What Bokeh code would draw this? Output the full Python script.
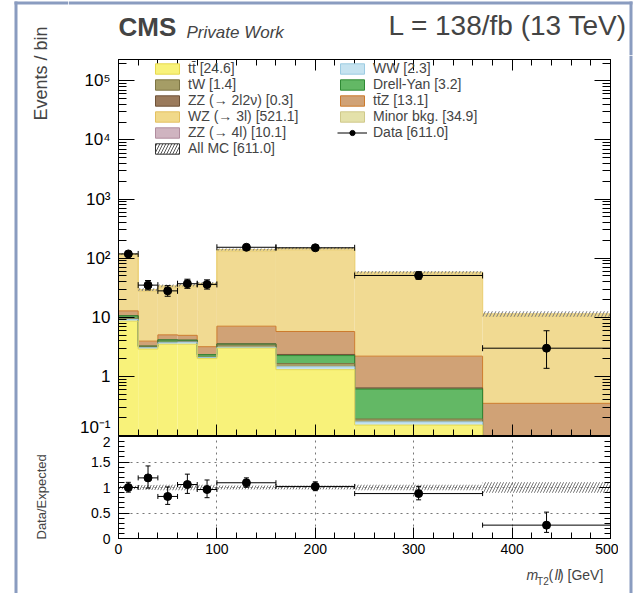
import numpy as np
from bokeh.plotting import figure
from bokeh.models import (ColumnDataSource, Label, Legend, LegendItem, BoxAnnotation,
                          FixedTicker, CustomJSTickFormatter, LinearAxis, LogAxis, Range1d)
from bokeh.layouts import column, row
from bokeh.embed import file_html
from bokeh.resources import INLINE

# ---------------- data ----------------
bin_edges = [0, 20, 40, 60, 80, 100, 160, 240, 370, 500]

ttbar   = [8.6, 2.9, 3.5, 3.5, 2.0, 3.0, 1.3, 0.15, 0.0]
ww      = [0.6, 0.15, 0.2, 0.3, 0.08, 0.1, 0.15, 0.02, 0.0]
tw      = [0.4, 0.1, 0.1, 0.1, 0.05, 0.3, 0.2, 0.02, 0.0]
dy      = [1.0, 0.1, 0.35, 0.2, 0.2, 0.12, 0.6, 0.42, 0.0]
zz2l2nu = [0.05, 0.0, 0.0, 0.0, 0.0, 0.05, 0.1, 0.03, 0.0]
ttz     = [2.2, 0.7, 0.9, 0.85, 0.85, 3.5, 3.4, 1.56, 0.35]
wz      = [96.6, 23.4, 26.6, 27.5, 31.6, 122.4, 130.3, 51.2, 10.1]
minor   = [6.5, 1.6, 1.8, 1.9, 2.1, 8.1, 8.6, 3.5, 0.8]
zz4l    = [2.0, 0.5, 0.5, 0.6, 0.6, 2.4, 2.3, 1.0, 0.2]
mc_unc  = [4.0, 1.5, 1.8, 1.8, 2.0, 5.5, 5.5, 3.0, 1.2]

data        = [118, 35, 28, 37, 36, 153, 150, 51, 3]
data_err_lo = [10.8, 5.9, 5.3, 6.1, 6.0, 12.4, 12.2, 7.1, 1.63]
data_err_hi = [11.9, 6.9, 6.3, 7.1, 7.0, 13.4, 13.3, 8.2, 2.92]

legend_col1 = ["tt\u0304 [24.6]", "tW [1.4]", "ZZ (\u2192 2l2\u03bd) [0.3]",
               "WZ (\u2192 3l) [521.1]", "ZZ (\u2192 4l) [10.1]", "All MC [611.0]"]
legend_col2 = ["WW [2.3]", "Drell-Yan [3.2]", "tt\u0304Z [13.1]",
               "Minor bkg. [34.9]", "Data [611.0]"]

y_ticks_main = [0.1, 1, 10, 100, 1e3, 1e4, 1e5]
x_ticks = [0, 100, 200, 300, 400, 500]
ratio_ticks = [0, 0.5, 1, 1.5, 2]

FONT = "Liberation Sans"
FRAME_BLUE = "#8a9cc0"

# ---------------- derived ----------------
edges = np.array(bin_edges, dtype=float)
left, right = edges[:-1], edges[1:]
centers = 0.5 * (left + right)
floor = 1e-3

comps = [
    ("ttbar", ttbar, "#f8f27a", "#e6d84e"),
    ("ww", ww, "#c6e3f0", "#9ccbe2"),
    ("tw", tw, "#a59d66", "#7d7544"),
    ("dy", dy, "#63b865", "#2f8a34"),
    ("zz2l2nu", zz2l2nu, "#9a7a5c", "#6e5238"),
    ("ttz", ttz, "#d0a276", "#cc7a2c"),
    ("wz", wz, "#f1da92", "#ecd27c"),
    ("minor", minor, "#efdb98", "#ecd480"),
    ("zz4l", zz4l, "#f1da95", "#ecd27c"),
]
legend_style = {
    "ttbar": ("#f8f27a", "#e6d84e"), "tw": ("#a59d66", "#7d7544"),
    "zz2l2nu": ("#9a7a5c", "#6e5238"), "wz": ("#f1d98a", "#e3c060"),
    "zz4l": ("#cfb4c0", "#b08c9e"), "ww": ("#c6e3f0", "#9ccbe2"),
    "dy": ("#63b865", "#2f8a34"), "ttz": ("#d0a276", "#cc7a2c"),
    "minor": ("#e4e1aa", "#cfc98a"),
}

empty_fmt = CustomJSTickFormatter(code="return '';")


def style_axis(ax, tin, tmin, labels=True, fs="17px"):
    ax.major_tick_in = tin
    ax.major_tick_out = 0
    ax.minor_tick_in = tmin
    ax.minor_tick_out = 0
    ax.axis_line_color = "black"
    ax.major_tick_line_color = "black"
    ax.minor_tick_line_color = "black"
    if labels:
        ax.major_label_text_font = FONT
        ax.major_label_text_font_size = fs
        ax.major_label_text_color = "black"
    else:
        ax.formatter = empty_fmt
        ax.major_label_text_font_size = "1px"
        ax.major_label_standoff = 0


def blank(width, height, xa, xb, ya, yb):
    """Figure whose frame is the whole canvas; data units = page pixels (y downward)."""
    f = figure(width=width, height=height, x_range=Range1d(xa, xb), y_range=Range1d(yb, ya),
               x_axis_location=None, y_axis_location=None, min_border=0,
               output_backend="svg", toolbar_location=None)
    f.outline_line_color = None
    for g in f.grid:
        g.visible = False
    return f


# ---------------- main figure ----------------
MW = 550
p = figure(width=MW, height=381, y_axis_type="log",
           x_range=Range1d(0, 500), y_range=Range1d(0.1, 2.3e5),
           output_backend="svg", toolbar_location=None,
           min_border_left=50, min_border_right=8, min_border_top=4, min_border_bottom=1)
p.xgrid.visible = False
p.ygrid.visible = False
p.outline_line_color = "black"

cum = np.zeros(len(left))
tops = []
layer_src = {}
for name, vals, fc, lc in comps:
    v = np.array(vals, dtype=float)
    top = cum + v
    src = ColumnDataSource(dict(left=left, right=right, bottom=np.maximum(cum, floor),
                                top=np.maximum(top, floor)))
    layer_src[name] = src
    p.quad(left="left", right="right", bottom="bottom", top="top", source=src,
           fill_color=fc, line_color=None)
    tops.append((np.maximum(top, floor), lc))
    cum = top
mc_total = cum
# outlines drawn top layer first so lower layers win where a layer is empty
for t, lc in reversed(tops):
    p.step(x=edges, y=list(t) + [t[-1]], mode="after", line_color=lc, line_width=1)

unc = np.array(mc_unc)
band_src = ColumnDataSource(dict(left=left, right=right, bottom=mc_total - unc, top=mc_total + unc))
p.quad(left="left", right="right", bottom="bottom", top="top", source=band_src,
       fill_alpha=0, line_color=None, hatch_pattern="/", hatch_color="#777777",
       hatch_scale=7, hatch_weight=1)

d = np.array(data, dtype=float)
dsrc = ColumnDataSource(dict(x=centers, y=d, lo=d - np.array(data_err_lo), hi=d + np.array(data_err_hi),
                             xl=left, xr=right))
p.segment(x0="x", y0="lo", x1="x", y1="hi", source=dsrc, line_color="black", line_width=1)
p.segment(x0="xl", y0="y", x1="xr", y1="y", source=dsrc, line_color="black", line_width=1)
p.scatter(x="x", y="lo", source=dsrc, marker="dash", size=6, line_color="black")
p.scatter(x="x", y="hi", source=dsrc, marker="dash", size=6, line_color="black")
p.scatter(x="xl", y="y", source=dsrc, marker="dash", angle=np.pi / 2, size=6, line_color="black")
p.scatter(x="xr", y="y", source=dsrc, marker="dash", angle=np.pi / 2, size=6, line_color="black")
p.scatter(x="x", y="y", source=dsrc, size=8, color="black")

sup_fmt = CustomJSTickFormatter(code="""
const sup = {"-":"\u207b","0":"\u2070","1":"\u00b9","2":"\u00b2","3":"\u00b3","4":"\u2074","5":"\u2075","6":"\u2076","7":"\u2077","8":"\u2078","9":"\u2079"};
const e = Math.round(Math.log10(tick));
if (e == 0) return "1";
if (e == 1) return "10";
return "10" + String(e).split("").map(c => sup[c]).join("");
""")
minor_log = [m * 10.0 ** k for k in range(-1, 6) for m in range(2, 10)]
minor_x = [v for v in range(0, 501, 20) if v % 100]

p.yaxis.ticker = FixedTicker(ticks=y_ticks_main, minor_ticks=minor_log)
p.yaxis.formatter = sup_fmt
style_axis(p.yaxis[0], 16, 8, True, "17px")
p.yaxis.major_label_standoff = 8
p.xaxis.ticker = FixedTicker(ticks=x_ticks, minor_ticks=minor_x)
style_axis(p.xaxis[0], 11, 6, False)

ax_r = LogAxis(ticker=FixedTicker(ticks=y_ticks_main, minor_ticks=minor_log))
style_axis(ax_r, 16, 8, False)
p.add_layout(ax_r, "right")
ax_t = LinearAxis(ticker=FixedTicker(ticks=x_ticks, minor_ticks=minor_x))
style_axis(ax_t, 11, 6, False)
p.add_layout(ax_t, "above")

# legend proxies: hidden renderers sharing the layer data
def proxy_quad(key, src, **kw):
    fc, lc = legend_style[key]
    return p.quad(left="left", right="right", bottom="bottom", top="top", source=src,
                  fill_color=fc, line_color=lc, visible=False, **kw)

r_tt = proxy_quad("ttbar", layer_src["ttbar"])
r_tw = proxy_quad("tw", layer_src["tw"])
r_zz2 = proxy_quad("zz2l2nu", layer_src["zz2l2nu"])
r_wz = proxy_quad("wz", layer_src["wz"])
r_zz4 = proxy_quad("zz4l", layer_src["zz4l"])
r_all = p.quad(left="left", right="right", bottom="bottom", top="top", source=band_src,
               fill_color="white", line_color="#333333", hatch_pattern="/", hatch_color="#555555",
               hatch_scale=6, visible=False)
r_ww = proxy_quad("ww", layer_src["ww"])
r_dy = proxy_quad("dy", layer_src["dy"])
r_ttz = proxy_quad("ttz", layer_src["ttz"])
r_min = proxy_quad("minor", layer_src["minor"])
r_dl = p.line(x="x", y="y", source=dsrc, line_color="black", line_width=1, visible=False)
r_dm = p.scatter(x="x", y="y", source=dsrc, size=8, color="black", visible=False)

ROW_H = 16
leg_kw = dict(orientation="vertical", padding=0, margin=0, spacing=0, glyph_width=30, glyph_height=13,
              label_height=ROW_H, label_standoff=6, label_text_font=FONT, label_text_font_size="14px",
              border_line_color=None, background_fill_alpha=0, inactive_fill_alpha=0)
leg1 = Legend(items=[LegendItem(label=t, renderers=[rr]) for t, rr in
                     zip(legend_col1, [r_tt, r_tw, r_zz2, r_wz, r_zz4, r_all])],
              location=(34, 376 - 6 * ROW_H - 1), **leg_kw)
leg2 = Legend(items=[LegendItem(label=t, renderers=rr) for t, rr in
                     zip(legend_col2, [[r_ww], [r_dy], [r_ttz], [r_min], [r_dl, r_dm]])],
              location=(219, 376 - 5 * ROW_H - 1), **leg_kw)
p.add_layout(leg1)
p.add_layout(leg2)

# ---------------- ratio figure ----------------
r = figure(width=MW, height=124, x_range=p.x_range, y_range=Range1d(0, 2),
           output_backend="svg", toolbar_location=None,
           min_border_left=50, min_border_right=8, min_border_top=0, min_border_bottom=22)
r.outline_line_color = "black"
r.xgrid.grid_line_dash = "dotted"
r.ygrid.grid_line_dash = "dotted"
r.xgrid.grid_line_color = "#777777"
r.ygrid.grid_line_color = "#777777"

rel = unc / mc_total
r.quad(left=left, right=right, bottom=1 - rel, top=1 + rel, fill_alpha=0, line_color=None,
       hatch_pattern="/", hatch_color="#777777", hatch_scale=6, hatch_weight=1)
rsrc = ColumnDataSource(dict(x=centers, y=d / mc_total,
                             lo=(d - np.array(data_err_lo)) / mc_total,
                             hi=(d + np.array(data_err_hi)) / mc_total, xl=left, xr=right))
r.segment(x0="x", y0="lo", x1="x", y1="hi", source=rsrc, line_color="black")
r.segment(x0="xl", y0="y", x1="xr", y1="y", source=rsrc, line_color="black")
r.scatter(x="x", y="lo", source=rsrc, marker="dash", size=5, line_color="black")
r.scatter(x="x", y="hi", source=rsrc, marker="dash", size=5, line_color="black")
r.scatter(x="xl", y="y", source=rsrc, marker="dash", angle=np.pi / 2, size=5, line_color="black")
r.scatter(x="xr", y="y", source=rsrc, marker="dash", angle=np.pi / 2, size=5, line_color="black")
r.scatter(x="x", y="y", source=rsrc, size=8, color="black")

r.xaxis.ticker = FixedTicker(ticks=x_ticks, minor_ticks=minor_x)
style_axis(r.xaxis[0], 11, 6, True, "14px")
r.xaxis.major_label_standoff = 5
minor_ratio = [round(0.1 * i, 1) for i in range(0, 21) if i % 5]
r.yaxis.ticker = FixedTicker(ticks=ratio_ticks, minor_ticks=minor_ratio)
r.yaxis.major_label_overrides = {0: "0", 0.5: "0.5", 1: "1", 1.5: "1.5", 2: "2"}
style_axis(r.yaxis[0], 11, 6, True, "14px")
r.yaxis.major_label_standoff = 8
ax_rr = LinearAxis(ticker=FixedTicker(ticks=ratio_ticks, minor_ticks=minor_ratio))
style_axis(ax_rr, 11, 6, False)
r.add_layout(ax_rr, "right")

# ---------------- text / frame strips (data units = page pixels) ----------------
LEFT_W, HEAD_H, FOOT_H, RIGHT_W = 68, 55, 33, 16
TOTAL_H = HEAD_H + 381 + 124 + FOOT_H
RIGHT_X = LEFT_W + MW

header = blank(MW + RIGHT_W, HEAD_H, LEFT_W, RIGHT_X + RIGHT_W, 0, HEAD_H)
header.add_layout(Label(x=118, y=41, text="CMS", text_font=FONT, text_font_style="bold",
                        text_font_size="26px"))
header.add_layout(Label(x=186, y=41, text="Private Work", text_font=FONT,
                        text_font_style="italic", text_font_size="17px"))
header.add_layout(Label(x=627, y=40, text="L = 138/fb (13 TeV)", text_align="right",
                        text_font=FONT, text_font_size="28px"))
header.add_layout(BoxAnnotation(left=LEFT_W, right=632, top=1, bottom=4, fill_color=FRAME_BLUE,
                                fill_alpha=1, line_alpha=0))
header.add_layout(BoxAnnotation(left=629, right=632, top=1, bottom=HEAD_H, fill_color=FRAME_BLUE,
                                fill_alpha=1, line_alpha=0))

leftstrip = blank(LEFT_W, TOTAL_H, 0, LEFT_W, 0, TOTAL_H)
leftstrip.add_layout(Label(x=50, y=120, text="Events / bin", angle=np.pi / 2,
                           text_font=FONT, text_font_size="18px"))
leftstrip.add_layout(Label(x=48, y=539, text="Data/Expected", angle=np.pi / 2,
                           text_font=FONT, text_font_size="13px"))
leftstrip.add_layout(BoxAnnotation(left=14, right=17, top=1, bottom=TOTAL_H, fill_color=FRAME_BLUE,
                                   fill_alpha=1, line_alpha=0))
leftstrip.add_layout(BoxAnnotation(left=14, right=LEFT_W, top=1, bottom=4, fill_color=FRAME_BLUE,
                                   fill_alpha=1, line_alpha=0))

foot_top = HEAD_H + 381 + 124
footer = blank(MW, FOOT_H, LEFT_W, RIGHT_X, foot_top, foot_top + FOOT_H)
# (text, style, size, baseline shift, advance to next piece on the left)
pieces = [(") [GeV]", "normal", "14px", 0, 47.5),
          ("ll", "italic", "14px", 0, 8.5),
          ("(", "normal", "14px", 0, 5.0),
          ("T2", "normal", "10px", 4, 12.0),
          ("m", "italic", "14px", 0, 12.0)]
xpos = 610
for txt, st, fs, dyp, wdt in pieces:
    footer.add_layout(Label(x=xpos, y=582 + dyp, text=txt, text_align="right", text_font=FONT,
                            text_font_style=st, text_font_size=fs))
    xpos -= wdt

rightstrip = blank(RIGHT_W, TOTAL_H - HEAD_H, RIGHT_X, RIGHT_X + RIGHT_W, HEAD_H, TOTAL_H)
rightstrip.add_layout(BoxAnnotation(left=629, right=632, top=HEAD_H, bottom=TOTAL_H,
                                    fill_color=FRAME_BLUE, fill_alpha=1, line_alpha=0))

layout = row(leftstrip,
             column(header, row(column(p, r, footer, spacing=0), rightstrip, spacing=0), spacing=0),
             spacing=0)

open("out.html", "w").write(file_html(layout, INLINE))
